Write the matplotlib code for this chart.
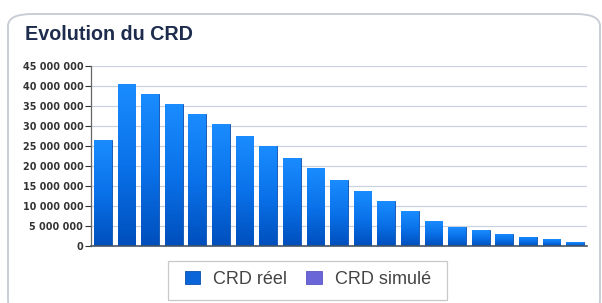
import matplotlib
matplotlib.use("Agg")
import matplotlib.pyplot as plt
import numpy as np
from matplotlib.patches import FancyBboxPatch, Rectangle, Patch
from matplotlib.colors import LinearSegmentedColormap
from matplotlib.ticker import FuncFormatter

# ---- data ----
periods = list(range(1, 22))
crd_reel = [26.4e6, 40.3e6, 38.0e6, 35.4e6, 32.9e6, 30.4e6, 27.4e6, 24.8e6, 22.0e6,
            19.3e6, 16.4e6, 13.7e6, 11.2e6, 8.6e6, 6.25e6, 4.7e6, 3.85e6, 3.0e6,
            2.3e6, 1.6e6, 0.9e6]
yticks = [0, 5e6, 10e6, 15e6, 20e6, 25e6, 30e6, 35e6, 40e6, 45e6]
title = "Evolution du CRD"
legend_labels = ["CRD réel", "CRD simulé"]

W, H = 602, 303
fig = plt.figure(figsize=(W / 100, H / 100), dpi=100)
fig.patch.set_facecolor("white")

# outer rounded frame
frame = FancyBboxPatch((8 / W, -10 / H), 592 / W, (H - 14 + 10) / H,
                       boxstyle="round,pad=0,rounding_size=0.04",
                       transform=fig.transFigure, facecolor="none",
                       edgecolor="#c9ced6", linewidth=1.4, zorder=-1)
fig.patches.append(frame)

fig.text(25 / W, 1 - 39.5 / H, title, fontsize=14.2, fontweight="bold",
         color="#1d2c4c", family="Liberation Sans", ha="left", va="baseline")

ax = fig.add_axes([91 / W, 1 - 245.7 / H, (587 - 91) / W, (245.7 - 65.7) / H])
ax.set_facecolor("none")
x = np.arange(len(periods))
bars = ax.bar(x, crd_reel, width=0.75, color="#0a6fe6", edgecolor="#0a4fae",
              linewidth=0.6, zorder=2)

# gradient fill clipped to each bar
cmap = LinearSegmentedColormap.from_list("g", ["#004fbc", "#0a72ea", "#1a8cff"])
grad = np.linspace(0, 1, 100).reshape(-1, 1)
for b in bars:
    bx, by = b.get_x(), b.get_y()
    bw, bh = b.get_width(), b.get_height()
    im = ax.imshow(grad, extent=(bx, bx + bw, by, by + bh), origin="lower",
                   cmap=cmap, aspect="auto", zorder=2.5)
    im.set_clip_path(b)

ax.set_xlim(-0.5, len(periods) - 0.5)
ax.set_ylim(0, 45e6)
ax.set_yticks(yticks)
ax.yaxis.set_major_formatter(FuncFormatter(lambda v, p: f"{int(v):,}".replace(",", " ")))
ax.set_xticks([])
for lab in ax.get_yticklabels():
    lab.set_fontweight("bold")
ax.tick_params(axis="y", labelsize=6.9, colors="#333333", length=4, width=0.8,
               pad=1.5, direction="out")
ax.yaxis.grid(True, color="#c9d2de", linewidth=0.9, zorder=0)
ax.set_axisbelow(True)
for s in ["top", "right"]:
    ax.spines[s].set_visible(False)
ax.spines["left"].set_color("#666666")
ax.spines["left"].set_linewidth(0.9)
ax.spines["bottom"].set_color("#445566")
ax.spines["bottom"].set_linewidth(1.2)

# legend frame
fig.patches.append(Rectangle((168 / W, 3 / H), (447 - 168) / W, (300 - 260.5) / H,
                             transform=fig.transFigure, facecolor="white",
                             edgecolor="#c8c8c8", linewidth=0.9, zorder=1))
handles = [Patch(facecolor="#0a66d8", edgecolor="#0a4fae", linewidth=0.6),
           Patch(facecolor="#6b66d8", edgecolor="#5a55c0", linewidth=0.6)]
leg = fig.legend(handles, legend_labels, loc="center left",
                 bbox_to_anchor=(184.5 / W, 1 - 279.5 / H), ncol=2,
                 frameon=False, prop={"family": "Liberation Sans", "size": 13},
                 labelcolor="#444444", handletextpad=0.7, columnspacing=1.05,
                 borderpad=0, borderaxespad=0, handlelength=0.88, handleheight=0.72)
leg.set_zorder(2)

fig.savefig("out.png", dpi=100)
